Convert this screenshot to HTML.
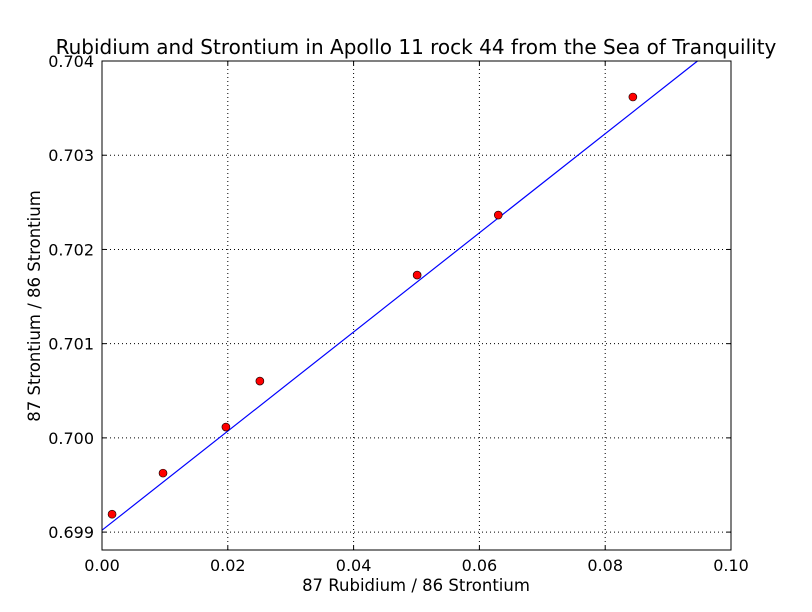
<!DOCTYPE html>
<html><head><meta charset="utf-8"><style>body{margin:0;background:#fff}svg{display:block}text{font-family:"DejaVu Sans","Liberation Sans",sans-serif}</style></head>
<body>
<svg id="chart" width="812" height="612" xmlns="http://www.w3.org/2000/svg">
<rect width="812" height="612" fill="#fff"/>
<g id="grid"></g>
<g id="marks"></g>
<rect x="102" y="61" width="629" height="489" fill="none" stroke="#000" stroke-width="1"/>
<g id="ticks"></g>
<text x="416" y="54" font-size="20" text-anchor="middle">Rubidium and Strontium in Apollo 11 rock 44 from the Sea of Tranquility</text>
<text x="416" y="591" font-size="16.5" text-anchor="middle">87 Rubidium / 86 Strontium</text>
<text transform="translate(40,306) rotate(-90)" font-size="16.5" text-anchor="middle">87 Strontium / 86 Strontium</text>
</svg>
<script>
const xData = [0.0016, 0.0097, 0.0197, 0.0251, 0.0501, 0.0630, 0.0844];
const yData = [0.69919, 0.699626, 0.700115, 0.700603, 0.701728, 0.702365, 0.703618];
const fitIntercept = 0.69902;
const fitSlope = 0.0526;
const xTicks = [0, 0.02, 0.04, 0.06, 0.08, 0.10];
const xTickLabels = ["0.00","0.02","0.04","0.06","0.08","0.10"];
const yTicks = [0.699, 0.700, 0.701, 0.702, 0.703, 0.704];
const yTickLabels = ["0.699","0.700","0.701","0.702","0.703","0.704"];
const L=102,R=731,T=61,B=550, X0=0,X1=0.1, Y0=0.69881, Y1=0.704;
const sx=v=>L+(v-X0)/(X1-X0)*(R-L);
const sy=v=>B-(v-Y0)/(Y1-Y0)*(B-T);
const NS="http://www.w3.org/2000/svg";
function mk(t,a,p){const e=document.createElementNS(NS,t);for(const k in a)e.setAttribute(k,a[k]);p.appendChild(e);return e;}
const grid=document.getElementById('grid'),ticks=document.getElementById('ticks'),marks=document.getElementById('marks');
xTicks.forEach((v,i)=>{const x=sx(v);
 if(i>0&&i<xTicks.length-1){const g=mk('line',{x1:x,x2:x,y1:T,y2:B,stroke:'#000','stroke-dasharray':'1,3','stroke-width':1},grid);}
 mk('line',{x1:x,x2:x,y1:B,y2:B-4,stroke:'#000'},ticks);mk('line',{x1:x,x2:x,y1:T,y2:T+4,stroke:'#000'},ticks);
 const t=mk('text',{x:x,y:B+21,'font-size':16,'text-anchor':'middle'},ticks);t.textContent=xTickLabels[i];
 });
yTicks.forEach((v,i)=>{const y=sy(v);
 if(i<yTicks.length-1){const g=mk('line',{x1:L,x2:R,y1:y,y2:y,stroke:'#000','stroke-dasharray':'1,3','stroke-width':1},grid);}
 mk('line',{x1:L,x2:L+4,y1:y,y2:y,stroke:'#000'},ticks);mk('line',{x1:R,x2:R-4,y1:y,y2:y,stroke:'#000'},ticks);
 const t=mk('text',{x:L-8,y:y+6,'font-size':16,'text-anchor':'end'},ticks);t.textContent=yTickLabels[i];
 });
const xEnd=Math.min(X1,(Y1-fitIntercept)/fitSlope);
const ln=mk('line',{x1:sx(0),y1:sy(fitIntercept),x2:sx(xEnd),y2:sy(fitIntercept+fitSlope*xEnd),stroke:'#0000ff','stroke-width':1.2},marks);

xData.forEach((v,i)=>{const c=mk('circle',{cx:sx(v),cy:sy(yData[i]),r:4,fill:'#ff0000',stroke:'#000','stroke-width':0.6},marks);
 });
</script>
</body></html>
